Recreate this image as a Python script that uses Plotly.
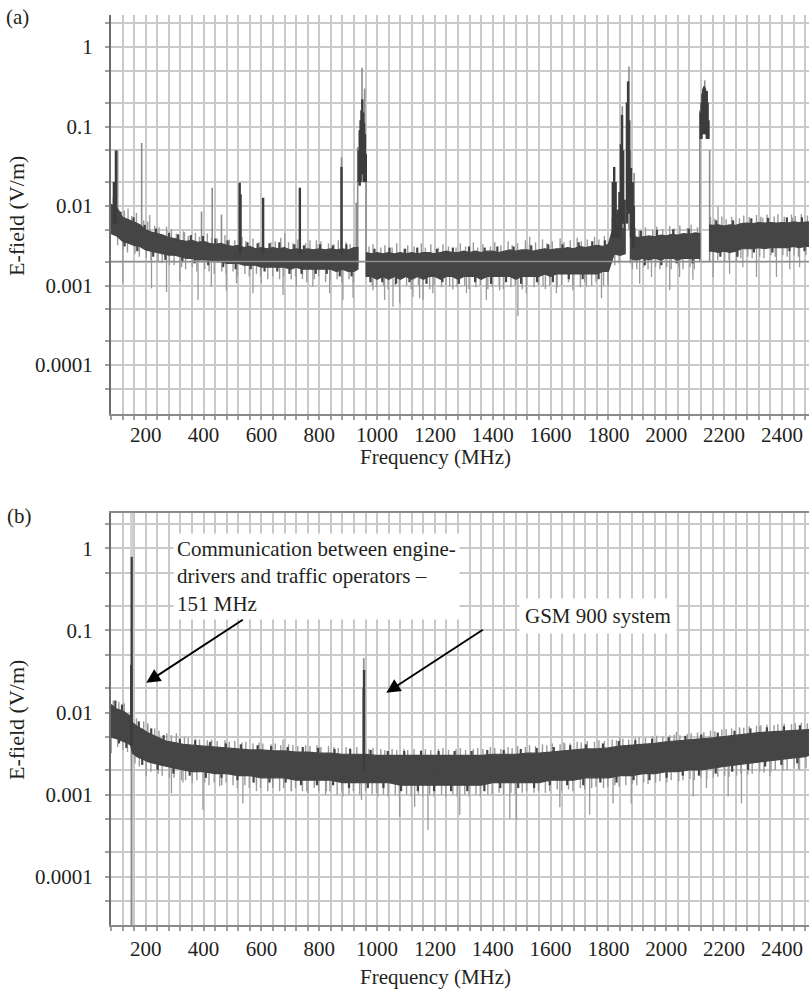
import math
import numpy as np
import plotly.graph_objects as go

FONT = "Liberation Serif"
TXT = "#231f20"
GRID = "#c9c9c9"

# ---------------- (a) data ----------------
freq_a = [80, 100, 120, 140, 160, 180, 200, 220, 240, 260, 280, 300, 320, 340, 360, 380, 400, 420, 440, 460,
          480, 500, 520, 540, 560, 580, 600, 620, 640, 660, 680, 700, 720, 740, 760, 780, 800, 820, 840, 860,
          880, 900, 920, 934,
          948,
          963, 980, 1000, 1020, 1040, 1060, 1080, 1100, 1120, 1140, 1160, 1180, 1200, 1220, 1240, 1260, 1280,
          1300, 1320, 1340, 1360, 1380, 1400, 1420, 1440, 1460, 1480, 1500, 1520, 1540, 1560, 1580, 1600, 1620,
          1640, 1660, 1680, 1700, 1720, 1740, 1760, 1780, 1800, 1820, 1840, 1858,
          1867,
          1877, 1890, 1900, 1920, 1940, 1960, 1980, 2000, 2020, 2040, 2060, 2080, 2100, 2116,
          2133,
          2150, 2160, 2180, 2200, 2220, 2240, 2260, 2280, 2300, 2320, 2340, 2360, 2380, 2400, 2420, 2440, 2460,
          2480, 2493]
band_hi_a = [0.0105, 0.0095, 0.0072, 0.0068, 0.0063, 0.0058, 0.0050, 0.0047, 0.0045, 0.0043, 0.0040, 0.0039,
             0.0037, 0.0036, 0.0037, 0.0035, 0.0036, 0.0034, 0.0033, 0.0034, 0.0032, 0.0031, 0.0032, 0.0030,
             0.0031, 0.0029, 0.0030, 0.0029, 0.0030, 0.0029, 0.0030, 0.0028, 0.0029, 0.0028, 0.0029, 0.0028,
             0.0029, 0.0028, 0.0029, 0.0028, 0.0029, 0.0028, 0.0030, 0.0030,
             None,
             0.0026, 0.0025, 0.0026, 0.0025, 0.0026, 0.0025, 0.0026, 0.0025, 0.0026, 0.0025, 0.0026, 0.0026,
             0.0025, 0.0026, 0.0027, 0.0026, 0.0026, 0.0027, 0.0026, 0.0027, 0.0026, 0.0027, 0.0027, 0.0026,
             0.0027, 0.0028, 0.0027, 0.0028, 0.0028, 0.0027, 0.0028, 0.0029, 0.0028, 0.0029, 0.0029, 0.0030,
             0.0029, 0.0031, 0.0030, 0.0031, 0.0032, 0.0031, 0.0033, 0.0060, 0.0055, 0.0050,
             None,
             0.0045, 0.0042, 0.0040, 0.0041, 0.0042, 0.0041, 0.0043, 0.0042, 0.0044, 0.0043, 0.0045, 0.0044,
             0.0046, 0.0045,
             None,
             0.0058, 0.0057, 0.0058, 0.0056, 0.0058, 0.0057, 0.0060, 0.0061, 0.0060, 0.0062, 0.0061, 0.0062,
             0.0061, 0.0062, 0.0061, 0.0063, 0.0062, 0.0063, 0.0063]
band_lo_a = [0.0045, 0.0042, 0.0036, 0.0034, 0.0032, 0.0031, 0.0028, 0.0027, 0.0026, 0.0025, 0.0024, 0.0024,
             0.0023, 0.0022, 0.0022, 0.0021, 0.0021, 0.0021, 0.0020, 0.0020, 0.0019, 0.0019, 0.0019, 0.0018,
             0.0018, 0.0018, 0.0017, 0.0017, 0.0017, 0.0017, 0.0017, 0.0016, 0.0017, 0.0016, 0.0016, 0.0016,
             0.0016, 0.0016, 0.0016, 0.0015, 0.0016, 0.0015, 0.0015, 0.0016,
             None,
             0.0013, 0.0013, 0.0012, 0.0013, 0.0012, 0.0013, 0.0012, 0.0013, 0.0012, 0.0013, 0.0012, 0.0013,
             0.0013, 0.0012, 0.0013, 0.0013, 0.0012, 0.0013, 0.0013, 0.0013, 0.0012, 0.0013, 0.0013, 0.0013,
             0.0013, 0.0013, 0.0012, 0.0013, 0.0013, 0.0013, 0.0013, 0.0014, 0.0013, 0.0014, 0.0014, 0.0014,
             0.0014, 0.0014, 0.0014, 0.0014, 0.0014, 0.0015, 0.0015, 0.0025, 0.0024, 0.0025,
             None,
             0.0022, 0.0021, 0.0021, 0.0022, 0.0021, 0.0022, 0.0021, 0.0022, 0.0022, 0.0021, 0.0022, 0.0022,
             0.0022, 0.0022,
             None,
             0.0027, 0.0027, 0.0026, 0.0027, 0.0026, 0.0027, 0.0029, 0.0029, 0.0029, 0.0030, 0.0029, 0.0030,
             0.0030, 0.0030, 0.0030, 0.0031, 0.0030, 0.0031, 0.0031]

floor_a_f = [80, 2493]
floor_a_v = [0.002, 0.002]

# frequencies at which the light fringe of the noise was read (shared by both panels)
fringe_up_f = [88, 107, 126, 152, 168, 193, 207, 231, 246, 273, 289, 306, 334, 347, 372, 386, 413, 428, 447,
               474, 489, 508, 533, 546, 571, 592, 605, 633, 648, 667, 694, 709, 726, 753, 768, 792, 806, 832,
               851, 866, 893, 907, 930, 950, 972, 986, 1013, 1027, 1052, 1068, 1093, 1106, 1128, 1153, 1167,
               1186, 1212, 1228, 1247, 1273, 1288, 1306, 1333, 1348, 1366, 1392, 1407, 1428, 1453, 1467, 1486,
               1513, 1527, 1548, 1572, 1587, 1606, 1633, 1646, 1668, 1692, 1706, 1727, 1752, 1767, 1786, 1813,
               1828, 1850, 1870, 1893, 1906, 1928, 1953, 1967, 1988, 2012, 2027, 2047, 2073, 2086, 2108, 2130,
               2153, 2168, 2192, 2207, 2226, 2253, 2268, 2287, 2312, 2327, 2348, 2373, 2386, 2408, 2433, 2446,
               2467, 2488]
fringe_dn_f = [103, 121, 137, 163, 178, 202, 218, 243, 257, 282, 298, 324, 338, 361, 377, 404, 419, 437, 463,
               478, 502, 517, 543, 558, 583, 597, 622, 639, 663, 677, 703, 718, 742, 757, 783, 798, 822, 837,
               862, 878, 903, 918, 940, 960, 983, 998, 1022, 1038, 1063, 1077, 1102, 1118, 1143, 1158, 1182,
               1197, 1223, 1238, 1262, 1277, 1303, 1318, 1342, 1357, 1383, 1398, 1422, 1437, 1463, 1478, 1502,
               1517, 1543, 1558, 1582, 1597, 1623, 1638, 1662, 1677, 1703, 1718, 1742, 1757, 1783, 1798, 1822,
               1837, 1860, 1883, 1898, 1922, 1937, 1963, 1978, 2002, 2017, 2043, 2058, 2082, 2097, 2120, 2140,
               2163, 2178, 2202, 2217, 2243, 2258, 2282, 2297, 2323, 2338, 2362, 2377, 2403, 2418, 2442, 2457,
               2483]

fringe_up_a = [0.013, 0.009, 0.0088, 0.0075, 0.0082, 0.0066, 0.0064, 0.0056, 0.0054, 0.0049,
               0.0051, 0.0045, 0.0047, 0.0042, 0.0046, 0.0041, 0.0045, 0.004, 0.0039, 0.0043,
               0.0038, 0.0037, 0.0041, 0.0036, 0.0039, 0.0035, 0.0039, 0.0035, 0.0036, 0.004,
               0.0035, 0.0034, 0.0038, 0.0034, 0.0037, 0.0033, 0.0036, 0.0034, 0.0033, 0.0037,
               0.0035, 0.0033, None, None,
               0.0031, 0.0033, 0.003, 0.0032, 0.003, 0.0034, 0.0029, 0.0032, 0.0031, 0.0034,
               0.003, 0.0033, 0.003, 0.0033, 0.0031, 0.003, 0.0034, 0.0031, 0.0035, 0.003,
               0.0033, 0.0031, 0.0035, 0.0032, 0.0036, 0.0032, 0.0034, 0.0037, 0.0033, 0.0035,
               0.0038, 0.0034, 0.0036, 0.0039, 0.0035, 0.0037, 0.004, 0.0036, 0.0038, 0.0041,
               0.0038, 0.0042, 0.007, 0.008, None, None,
               0.0053, 0.0049, 0.0054, 0.005, 0.0055, 0.0051, 0.0056, 0.0052, 0.0057, 0.0053, 0.0058, 0.0054,
               None,
               0.0073, 0.0069, 0.0074, 0.0068, 0.0073, 0.007, 0.0076, 0.0072, 0.0077, 0.0073, 0.0078, 0.0074,
               0.0079, 0.0073, 0.0078, 0.0075, 0.0079, 0.0076]
fringe_dn_a = [0.0032, 0.0028, 0.0026, 0.0025, 0.0023, 0.0022, 0.0021, 0.002, 0.0019, 0.0018, 0.0018, 0.0017,
               0.0016, 0.0017, 0.0015, 0.0016, 0.0015, 0.0014, 0.0015, 0.0014, 0.0015, 0.0013, 0.0014, 0.0013,
               0.0014, 0.0013, 0.0012, 0.0013, 0.0012, 0.0013, 0.0012, 0.0013, 0.0012, 0.0011, 0.0012, 0.0013,
               0.0011, 0.0012, 0.0012, 0.0011, 0.0012, 0.0011, None, None, 0.001, 0.00095, 0.001, 0.0009,
               0.001, 0.00095, 0.001, 0.0009, 0.001, 0.00095, 0.0009, 0.001, 0.00095, 0.001, 0.0009, 0.00095,
               0.001, 0.0009, 0.00095, 0.001, 0.0009, 0.00095, 0.001, 0.0009, 0.00095, 0.001, 0.0009, 0.001,
               0.00095, 0.001, 0.0009, 0.001, 0.00095, 0.001, 0.0011, 0.001, 0.00095, 0.0011, 0.001, 0.0011,
               0.001, 0.0011, 0.0018, 0.0019, None, 0.0016, 0.0016, 0.0017, 0.0016, 0.0017, 0.0016, 0.0017,
               0.0016, 0.0017, 0.0016, 0.0017, 0.0016, None, None, 0.002, 0.0021, 0.002, 0.0021, 0.002, 0.0022,
               0.0023, 0.0022, 0.0023, 0.0022, 0.0024, 0.0023, 0.0024, 0.0023, 0.0024, 0.0023, 0.0024]

# short dark excursions at the edges of the noise band (a)
jag_a_f = [113, 158, 197, 236, 281, 312, 356, 398, 441, 483, 552, 587, 628, 662, 714, 747, 803, 847, 894,
           991, 1043, 1097, 1139, 1207, 1262, 1318, 1372, 1416, 1472, 1533, 1592, 1641, 1697, 1744, 1788,
           1912, 1968, 2024, 2078, 2173, 2231, 2294, 2352, 2417, 2469,
           127, 171, 226, 268, 327, 369, 416, 468, 511, 563, 611, 655, 697, 739, 788, 826, 871, 912,
           977, 1018, 1066, 1112, 1171, 1226, 1283, 1339, 1394, 1446, 1498, 1553, 1608, 1663, 1711, 1766,
           1926, 1983, 2036, 2091, 2187, 2246, 2303, 2367, 2426, 2478]
jag_a_tip = [0.0085, 0.0072, 0.0058, 0.0052, 0.0046, 0.0044, 0.0043, 0.0042, 0.0039, 0.0037, 0.0035, 0.0034,
             0.0034, 0.0035, 0.0033, 0.0032, 0.0033, 0.0032, 0.0033,
             0.0029, 0.003, 0.0029, 0.003, 0.0029, 0.003, 0.0031, 0.003, 0.0031, 0.0031, 0.0032, 0.0033,
             0.0033, 0.0035, 0.0036, 0.0037,
             0.0049, 0.005, 0.0051, 0.0052, 0.0066, 0.0066, 0.007, 0.0071, 0.0072, 0.0072,
             0.0031, 0.0027, 0.0023, 0.0021, 0.002, 0.0019, 0.0018, 0.0017, 0.0016, 0.0016, 0.0015, 0.0015,
             0.0014, 0.0014, 0.0014, 0.0014, 0.0013, 0.0013,
             0.0011, 0.0011, 0.00105, 0.0011, 0.00105, 0.0011, 0.00105, 0.0011, 0.00105, 0.0011, 0.00105,
             0.0011, 0.0011, 0.0012, 0.0012, 0.0012,
             0.0018, 0.0018, 0.0019, 0.0019, 0.0023, 0.0023, 0.0026, 0.0026, 0.0027, 0.0027]

# deeper isolated light excursions (a)
noise_a_f = [121, 220, 272, 318, 381, 427, 479, 514, 571, 600, 675, 721, 778, 836, 882, 917, 986, 1026, 1055,
             1078, 1124, 1147, 1159, 1193, 1251, 1309, 1378, 1424, 1487, 1516, 1574, 1620, 1677, 1724, 1776,
             1799, 1908, 1949, 2012, 2046, 2092, 2162, 2219, 2265, 2312, 2381, 2427, 2461,
             139, 214, 272, 330, 681, 790, 1528, 1953, 2179, 2334, 2437]
noise_a_tip = [0.00107, 0.00092, 0.00083, 0.00112, 0.00066, 0.00097, 0.00087, 0.00107, 0.0008, 0.00107,
               0.00076, 0.00097, 0.00097, 0.0008, 0.00066, 0.0007, 0.00087, 0.00066, 0.00054, 0.0006, 0.00072,
               0.00069, 0.00066, 0.0008, 0.00097, 0.0008, 0.00066, 0.00087, 0.00041, 0.0008, 0.00097, 0.0008,
               0.00087, 0.00097, 0.00069, 0.00097, 0.00105, 0.00128, 0.00087, 0.00128, 0.00118, 0.00128,
               0.0014, 0.0017, 0.00128, 0.00128, 0.0016, 0.0017,
               0.0093, 0.0077, 0.0055, 0.0048, 0.0045, 0.0037, 0.0041, 0.005, 0.0098, 0.0071, 0.0071]

# signal lines (a): light grey
sig_light_a_f = [103, 186, 393, 430, 462, 877, 928, 933, 948, 957, 962, 1848, 1871, 1876, 1889, 2116, 2133, 2150]
sig_light_a_lo = [0.006, 0.004, 0.003, 0.003, 0.003, 0.0025, 0.002, 0.002, 0.02, 0.02, 0.0013, 0.005, 0.005,
                  0.0019, 0.004, 0.002, 0.1, 0.002]
sig_light_a_hi = [0.05, 0.062, 0.0085, 0.017, 0.0078, 0.041, 0.011, 0.055, 0.55, 0.3, 0.04, 0.18, 0.57, 0.05,
                  0.026, 0.16, 0.38, 0.05]
# signal lines (a): dark
sig_dark_a_f = [90, 97, 525, 528, 606, 733, 877,
                937, 940, 943, 946, 949, 952, 955, 958, 961,
                1815, 1820, 1825, 1832, 1838, 1843, 1847, 1851, 1856, 1864, 1868, 1872, 1878, 1884, 1888,
                2119, 2122, 2125, 2128, 2131, 2134, 2137, 2140, 2143, 2146]
sig_dark_a_lo = [0.006, 0.006, 0.0025, 0.0025, 0.0025, 0.0025, 0.0025,
                 0.02, 0.018, 0.02, 0.025, 0.03, 0.025, 0.02, 0.02, 0.02,
                 0.004, 0.004, 0.004, 0.004, 0.004, 0.005, 0.006, 0.006, 0.005, 0.006, 0.01, 0.008, 0.004,
                 0.003, 0.003,
                 0.07, 0.07, 0.08, 0.08, 0.09, 0.08, 0.08, 0.07, 0.07, 0.07]
sig_dark_a_hi = [0.02, 0.05, 0.0196, 0.014, 0.0127, 0.017, 0.031,
                 0.05, 0.09, 0.12, 0.16, 0.22, 0.15, 0.11, 0.08, 0.045,
                 0.02, 0.031, 0.02, 0.009, 0.015, 0.06, 0.14, 0.05, 0.012, 0.2, 0.37, 0.12, 0.03, 0.02, 0.01,
                 0.15, 0.2, 0.26, 0.3, 0.32, 0.3, 0.25, 0.28, 0.2, 0.12]

# ---------------- (b) data ----------------
freq_b = [80, 100, 120, 140, 148, 154, 170, 190, 210, 230, 250, 270, 300, 330, 360, 400, 440, 480, 520, 560,
          600, 640, 680, 720, 760, 800, 840, 880, 920, 960, 1000, 1040, 1080, 1120, 1160, 1200, 1240, 1280,
          1320, 1360, 1400, 1440, 1480, 1520, 1560, 1600, 1640, 1680, 1720, 1760, 1800, 1840, 1880, 1920,
          1960, 2000, 2040, 2080, 2120, 2160, 2200, 2240, 2280, 2320, 2360, 2400, 2440, 2480, 2493]
band_hi_b = [0.0125, 0.011, 0.0105, 0.0095, 0.009, 0.0075, 0.0068, 0.0062, 0.0056, 0.0052, 0.0048, 0.0045,
             0.0043, 0.0041, 0.0040, 0.0039, 0.0038, 0.0037, 0.0036, 0.0035, 0.0035, 0.0034, 0.0034, 0.0033,
             0.0033, 0.0032, 0.0032, 0.0031, 0.0031, 0.0031, 0.0030, 0.0030, 0.0030, 0.0030, 0.0030, 0.0030,
             0.0030, 0.0030, 0.0030, 0.0030, 0.0031, 0.0031, 0.0031, 0.0032, 0.0032, 0.0033, 0.0034, 0.0035,
             0.0036, 0.0036, 0.0037, 0.0039, 0.0040, 0.0041, 0.0042, 0.0044, 0.0045, 0.0046, 0.0047, 0.0049,
             0.0051, 0.0053, 0.0055, 0.0057, 0.0058, 0.0059, 0.0060, 0.0061, 0.0062]
band_lo_b = [0.005, 0.0048, 0.0045, 0.0042, 0.004, 0.0032, 0.0029, 0.0027, 0.0025, 0.0024, 0.0023, 0.0022,
             0.0021, 0.0020, 0.0019, 0.0019, 0.0018, 0.0018, 0.0017, 0.0017, 0.0016, 0.0016, 0.0016, 0.0015,
             0.0015, 0.0015, 0.0015, 0.0014, 0.0014, 0.0014, 0.0014, 0.0014, 0.0013, 0.0013, 0.0013, 0.0013,
             0.0013, 0.0013, 0.0013, 0.0013, 0.0014, 0.0014, 0.0014, 0.0014, 0.0014, 0.0015, 0.0015, 0.0015,
             0.0016, 0.0016, 0.0016, 0.0017, 0.0017, 0.0018, 0.0018, 0.0019, 0.0019, 0.0020, 0.0020, 0.0021,
             0.0022, 0.0023, 0.0024, 0.0025, 0.0026, 0.0027, 0.0028, 0.0029, 0.0030]

fringe_up_b = [0.014, 0.0135, 0.013, None, 0.0085, 0.0078, 0.007, 0.0064, 0.006, 0.0056, 0.0053, 0.0051,
               0.005, 0.0049, 0.0048, 0.0047, 0.0046, 0.0047, 0.0045, 0.0046, 0.0044, 0.0045, 0.0043, 0.0044,
               0.0042, 0.0043, 0.0042, 0.0041, 0.0042, 0.004, 0.0041, 0.004, 0.0039, 0.004, 0.0039, 0.004,
               0.0038, 0.0039, 0.0038, 0.0037, 0.0038, 0.0037, 0.0038, None, 0.0036, 0.0037, 0.0036, 0.0035,
               0.0036, 0.0035, 0.0036, 0.0035, 0.0036, 0.0035, 0.0036, 0.0035, 0.0036, 0.0037, 0.0035, 0.0036,
               0.0037, 0.0035, 0.0036, 0.0037, 0.0036, 0.0038, 0.0037, 0.0036, 0.0038, 0.0037, 0.0039, 0.0038,
               0.004, 0.0039, 0.0041, 0.004, 0.0042, 0.0041, 0.0043, 0.0042, 0.0044, 0.0043, 0.0045, 0.0044,
               0.0046, 0.0045, 0.0047, 0.0046, 0.0048, 0.0047, 0.0049, 0.005, 0.0049, 0.0051, 0.0052, 0.0051,
               0.0053, 0.0054, 0.0053, 0.0055, 0.0056, 0.0057, 0.0058, 0.006, 0.0059, 0.0062, 0.0063, 0.0064,
               0.0066, 0.0065, 0.0068, 0.0069, 0.007, 0.0071, 0.007, 0.0072, 0.0073, 0.0072, 0.0074, 0.0075,
               0.0074]
fringe_dn_b = [0.0038, 0.0035, 0.0033, 0.0024, 0.0022, 0.002, 0.0019, 0.0018, 0.0017, 0.0016, 0.0016, 0.0015,
               0.0015, 0.0014, 0.0015, 0.0014, 0.0013, 0.0014, 0.0013, 0.0014, 0.0013, 0.0012, 0.0013, 0.0012,
               0.0013, 0.0012, 0.0011, 0.0012, 0.0011, 0.0012, 0.0011, 0.0012, 0.0011, 0.0011, 0.0012, 0.0011,
               0.001, 0.0011, 0.001, 0.0011, 0.001, 0.0011, 0.001, 0.0011, 0.001, 0.00105, 0.001, 0.00095,
               0.001, 0.00095, 0.001, 0.00095, 0.001, 0.00095, 0.001, 0.00095, 0.001, 0.00095, 0.001, 0.00095,
               0.001, 0.00095, 0.001, 0.00095, 0.001, 0.001, 0.00105, 0.001, 0.00105, 0.001, 0.00105, 0.0011,
               0.00105, 0.0011, 0.00105, 0.0011, 0.00115, 0.0011, 0.00115, 0.0011, 0.0012, 0.00115, 0.0012,
               0.00125, 0.0012, 0.00125, 0.0013, 0.00125, 0.0013, 0.00135, 0.0013, 0.0014, 0.00135, 0.0014,
               0.00145, 0.0014, 0.0015, 0.00145, 0.0015, 0.00155, 0.0015, 0.0016, 0.00155, 0.0016, 0.00165,
               0.0017, 0.00165, 0.0017, 0.0018, 0.00175, 0.0018, 0.0019, 0.00185, 0.0019, 0.002, 0.00195,
               0.002, 0.0021, 0.00205, 0.0021]

jag_b_f = [95, 118, 176, 219, 262, 318, 371, 423, 477, 529, 587, 634, 691, 743, 796, 853, 907, 978, 1037,
           1094, 1152, 1213, 1268, 1327, 1381, 1438, 1497, 1552, 1611, 1668, 1722, 1781, 1836, 1893, 1951,
           2008, 2066, 2121, 2178, 2236, 2291, 2348, 2407, 2462,
           108, 133, 188, 241, 296, 352, 408, 462, 517, 573, 628, 684, 737, 792, 848, 903, 968, 1022, 1083,
           1141, 1197, 1256, 1312, 1371, 1426, 1488, 1543, 1597, 1657, 1713, 1772, 1828, 1887, 1942, 2001,
           2057, 2113, 2171, 2228, 2283, 2342, 2398, 2453]
jag_b_tip = [0.014, 0.0125, 0.0078, 0.0064, 0.0053, 0.0048, 0.0046, 0.0044, 0.0042, 0.0041, 0.004, 0.0039,
             0.0038, 0.0038, 0.0037, 0.0036, 0.0036, 0.0035, 0.0034, 0.0034, 0.0034, 0.0034, 0.0034, 0.0034,
             0.0035, 0.0035, 0.0036, 0.0037, 0.0038, 0.004, 0.0041, 0.0042, 0.0045, 0.0046, 0.0048, 0.005,
             0.0052, 0.0054, 0.0057, 0.006, 0.0064, 0.0066, 0.0068, 0.007,
             0.0042, 0.0037, 0.0023, 0.002, 0.0018, 0.0017, 0.0016, 0.0016, 0.0015, 0.0014, 0.0014, 0.0014,
             0.0013, 0.0013, 0.0013, 0.0012, 0.0012, 0.0012, 0.0011, 0.0011, 0.0011, 0.0011, 0.0011, 0.0011,
             0.0012, 0.0012, 0.0012, 0.0013, 0.0013, 0.0013, 0.0014, 0.0014, 0.0015, 0.0015, 0.0016, 0.0017,
             0.0017, 0.0018, 0.0019, 0.002, 0.0022, 0.0023, 0.0024]

noise_b_f = [81, 202, 289, 329, 398, 456, 536, 583, 640, 704, 761, 825, 882, 946, 1003, 1078, 1130, 1176,
             1286, 1459, 1482, 1632, 1735, 1816, 1879, 2093, 2139, 2214, 2260, 2358, 2461,
             207, 306, 415, 675, 802, 1649, 1839, 2035, 2254, 2323]
noise_b_tip = [0.0032, 0.00166, 0.00104, 0.0014, 0.00065, 0.00126, 0.00078, 0.0011, 0.00126, 0.0011, 0.00104,
               0.0011, 0.00095, 0.00086, 0.00095, 0.00054, 0.00071, 0.00037, 0.00057, 0.00051, 0.00049, 0.0007,
               0.00057, 0.00078, 0.00078, 0.00095, 0.0012, 0.00095, 0.00078, 0.0017, 0.002,
               0.0074, 0.0056, 0.0042, 0.0047, 0.0038, 0.0042, 0.005, 0.0058, 0.0064, 0.0067]

sig_light_b_f = [951, 954]
sig_light_b_lo = [0.002, 0.002]
sig_light_b_hi = [0.02, 0.046]
sig_dark_b_f = [150, 151.5, 955]
sig_dark_b_lo = [0.004, 0.004, 0.002]
sig_dark_b_hi = [0.038, 0.79, 0.033]
# 151 MHz trace leaving the scale at both ends
rail_b_f = [151, 151]
rail_b_lo = [1e-7, 0.8]
rail_b_hi = [0.004, 100]

arrow_b_f = [202, 1032]
arrow_b_v = [0.023, 0.0174]

for a_, b_ in [(fringe_up_f, fringe_up_a), (fringe_up_f, fringe_up_b), (fringe_dn_f, fringe_dn_a),
               (fringe_dn_f, fringe_dn_b), (jag_a_f, jag_a_tip), (jag_b_f, jag_b_tip),
               (noise_a_f, noise_a_tip), (noise_b_f, noise_b_tip), (freq_a, band_hi_a), (freq_a, band_lo_a),
               (freq_b, band_hi_b), (freq_b, band_lo_b)]:
    assert len(a_) == len(b_), (len(a_), len(b_))


# ---------------- helpers ----------------
def segments(f, lo, hi):
    xs, ys = [], []
    for a, b, c in zip(f, lo, hi):
        if b is None or c is None:
            continue
        xs += [a, a, None]
        ys += [b, c, None]
    return xs, ys


def band_mid(freq, lo, hi, f):
    pts = [(a, math.sqrt(b * c)) for a, b, c in zip(freq, lo, hi) if c is not None]
    return [10 ** float(np.interp(x, [p[0] for p in pts], [math.log10(p[1]) for p in pts])) for x in f]


def band_polygons(f, lo, hi):
    xs, ys = [], []
    seg = []
    for a, b, c in list(zip(f, lo, hi)) + [(None, None, None)]:
        if c is None:
            if seg:
                xs += [p[0] for p in seg] + [p[0] for p in reversed(seg)] + [seg[0][0], None]
                ys += [p[2] for p in seg] + [p[1] for p in reversed(seg)] + [seg[0][2], None]
            seg = []
        else:
            seg.append((a, b, c))
    return xs, ys


DARK = "#454545"
LIGHT = "#9a9a9a"

fig = go.Figure()


def add_lines(xa, ya, f, lo, hi, color, width):
    x, y = segments(f, lo, hi)
    fig.add_trace(go.Scatter(x=x, y=y, mode="lines", line=dict(color=color, width=width),
                             xaxis=xa, yaxis=ya, showlegend=False, hoverinfo="skip"))


def add_panel(xa, ya, freq, lo, hi, fringes, jf, jtip, nf, ntip, lf, llo, lhi, df, dlo, dhi):
    for ff, tips in fringes:
        add_lines(xa, ya, ff, tips, band_mid(freq, lo, hi, ff), LIGHT, 1.4)
    add_lines(xa, ya, nf, ntip, band_mid(freq, lo, hi, nf), LIGHT, 1.3)
    add_lines(xa, ya, lf, llo, lhi, "#8c8c8c", 1.6)
    x, y = band_polygons(freq, lo, hi)
    fig.add_trace(go.Scatter(x=x, y=y, mode="lines", fill="toself", fillcolor=DARK,
                             line=dict(color=DARK, width=1.2),
                             xaxis=xa, yaxis=ya, showlegend=False, hoverinfo="skip"))
    add_lines(xa, ya, jf, jtip, band_mid(freq, lo, hi, jf), DARK, 2.2)
    add_lines(xa, ya, df, dlo, dhi, "#3c3c3c", 2.4)


add_panel("x", "y", freq_a, band_lo_a, band_hi_a,
          [(fringe_up_f, fringe_up_a), (fringe_dn_f, fringe_dn_a)], jag_a_f, jag_a_tip, noise_a_f, noise_a_tip,
          sig_light_a_f, sig_light_a_lo, sig_light_a_hi, sig_dark_a_f, sig_dark_a_lo, sig_dark_a_hi)
fig.add_trace(go.Scatter(x=floor_a_f, y=floor_a_v, mode="lines", line=dict(color="#8e8e8e", width=1.5),
                         xaxis="x", yaxis="y", showlegend=False, hoverinfo="skip"))

# (b) panel: the 151 MHz rail first
add_lines("x2", "y2", rail_b_f[:1], rail_b_lo[:1], rail_b_hi[:1], "#8a8a8a", 2)
add_lines("x2", "y2", rail_b_f[1:], rail_b_lo[1:], rail_b_hi[1:], "#d2d2d2", 3)
add_panel("x2", "y2", freq_b, band_lo_b, band_hi_b,
          [(fringe_up_f, fringe_up_b), (fringe_dn_f, fringe_dn_b)], jag_b_f, jag_b_tip, noise_b_f, noise_b_tip,
          sig_light_b_f, sig_light_b_lo, sig_light_b_hi, sig_dark_b_f, sig_dark_b_lo, sig_dark_b_hi)

# ---------------- layout ----------------
W, H, L = 809, 989, 111
PW = W - L


def px(xp):
    return (xp - L) / PW


def py(yp):
    return 1 - yp / H


x_range = [80, 80 + PW / 0.2892]
tickfont = dict(family=FONT, size=21, color=TXT)

xcommon = dict(range=x_range, tick0=0, dtick=200, showgrid=True, gridcolor=GRID, gridwidth=1.6,
               ticks="outside", ticklen=4, tickcolor="#a0a0a0", tickwidth=1.5,
               showline=True, linecolor="#8a8a8a", linewidth=2, zeroline=False, tickfont=tickfont,
               minor=dict(tick0=0, dtick=40, showgrid=True, gridcolor=GRID, gridwidth=1.6,
                          ticks="outside", ticklen=4, tickcolor="#a0a0a0", tickwidth=1.5))
ymajor = [0.0001, 0.001, 0.01, 0.1, 1]
ylabels = ["0.0001", "0.001", "0.01", "0.1", "1"]
yminor = [0.00005, 0.0002, 0.0005, 0.002, 0.005, 0.02, 0.05, 0.2, 0.5, 2]
ycommon = dict(type="log", tickmode="array", tickvals=ymajor, ticktext=ylabels, showgrid=True,
               gridcolor=GRID, gridwidth=1.6, ticks="outside", ticklen=4, tickcolor="#a0a0a0", tickwidth=1.5,
               showline=True, linecolor="#6e6e6e", linewidth=2, zeroline=False, tickfont=tickfont,
               ticklabelstandoff=8,
               minor=dict(tickvals=yminor, showgrid=True, gridcolor=GRID, gridwidth=1.6,
                          ticks="outside", ticklen=4, tickcolor="#a0a0a0", tickwidth=1.5))

fig.update_layout(
    width=W, height=H, margin=dict(l=L, r=0, t=0, b=0),
    paper_bgcolor="white", plot_bgcolor="white", showlegend=False,
    xaxis=dict(domain=[0, 1], anchor="y", ticklabelstandoff=-3, **xcommon),
    yaxis=dict(domain=[py(414), py(15)], anchor="x", range=[-(414 - 47) / 79.5, (47 - 15) / 79.5], **ycommon),
    xaxis2=dict(domain=[0, 1], anchor="y2", mirror=True, ticklabelstandoff=0, **xcommon),
    yaxis2=dict(domain=[py(925), py(513)], anchor="x2",
                range=[-(925 - 548.3) / 82.1, (548.3 - 513) / 82.1], **ycommon),
)

ann_font = dict(family=FONT, size=21, color=TXT)
title_font = dict(family=FONT, size=22, color=TXT)
anns = [
    dict(text="(a)", x=px(18), y=py(17), font=ann_font),
    dict(text="(b)", x=px(19), y=py(516), font=ann_font),
    dict(text="E-field (V/m)", x=px(16), y=py(216), textangle=-90, font=title_font),
    dict(text="E-field (V/m)", x=px(16), y=py(720), textangle=-90, font=title_font),
    dict(text="Frequency (MHz)", x=px(435), y=py(457), font=ann_font),
    dict(text="Frequency (MHz)", x=px(435), y=py(977), font=ann_font),
]
for a in anns:
    fig.add_annotation(xref="paper", yref="paper", showarrow=False,
                       xanchor="center", yanchor="middle", **a)

fig.add_annotation(xref="paper", yref="paper", x=px(173), y=py(533), xanchor="left", yanchor="top",
                   align="left", showarrow=False, bgcolor="white", borderpad=3, font=ann_font,
                   text="Communication between engine-<br>drivers and traffic operators –<br>151 MHz")
fig.add_annotation(xref="paper", yref="paper", x=px(598), y=py(616), xanchor="center", yanchor="middle",
                   showarrow=False, bgcolor="white", borderpad=5, font=ann_font, text="GSM 900 system")
for f, v in zip(arrow_b_f, arrow_b_v):
    fig.add_annotation(xref="x2", yref="y2", x=f, y=math.log10(v), ax=98, ay=-64, text="",
                       showarrow=True, arrowhead=2, arrowsize=1.4, arrowwidth=2, arrowcolor="black")

fig.write_html("out.html")
